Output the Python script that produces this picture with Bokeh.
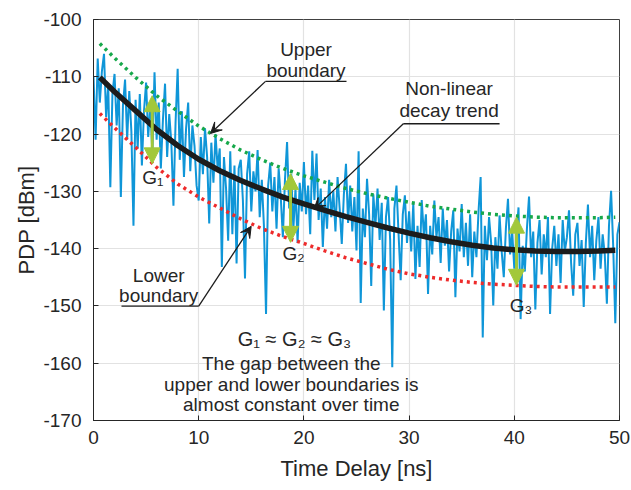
from bokeh.plotting import figure
from bokeh.models import Range1d, Label, Arrow, VeeHead, NormalHead, FixedTicker, Title
from bokeh.embed import file_html
from bokeh.resources import INLINE

# ---------------- data ----------------
pdp_dbm = [
    -110.0, -121.0, -106.8, -114.5, -109.0, -106.0, -117.0, -111.5, -129.3, -113.0,
    -109.5, -118.5, -112.0, -131.0, -115.0, -110.5, -121.0, -112.5, -119.5, -136.0,
    -114.0, -122.5, -113.0, -125.5, -116.0, -111.0, -120.5, -115.0, -123.5, -109.2,
    -121.0, -114.5, -126.0, -117.5, -111.2, -124.0, -116.5, -121.5, -132.5, -118.0,
    -108.6, -124.5, -116.0, -127.5, -119.0, -114.5, -126.5, -118.5, -122.0, -129.0,
    -131.6, -120.5, -127.0, -119.0, -124.0, -135.6, -121.5, -128.5, -120.0, -126.0,
    -122.5, -143.2, -124.0, -129.5, -138.6, -123.0, -137.5, -125.5, -142.6, -126.0,
    -124.5, -131.5, -145.2, -127.0, -123.0, -133.5, -126.5, -130.0, -122.8, -134.5,
    -128.0, -136.0, -151.4, -129.0, -125.0, -133.5, -127.5, -136.5, -126.0, -131.0,
    -138.0, -128.0, -121.4, -133.0, -127.0, -136.5, -129.5, -139.0, -128.5, -133.5,
    -124.9, -134.0, -129.0, -137.5, -122.9, -131.5, -123.4, -135.0, -129.5, -139.7,
    -131.0, -136.5, -128.0, -134.5, -130.0, -137.0, -127.5, -133.0, -139.2, -130.5,
    -125.2, -135.5, -129.0, -137.0, -131.0, -140.3, -123.0, -149.5, -133.0, -138.0,
    -127.8, -134.0, -146.5, -130.5, -136.0, -129.5, -138.5, -132.0, -150.8, -134.5,
    -131.0, -138.5, -160.7, -133.0, -129.0, -137.5, -145.5, -134.0, -130.7, -139.0,
    -133.5, -140.5, -132.0, -145.3, -136.0, -143.2, -131.5, -137.5, -134.0, -147.9,
    -136.0, -141.0, -131.6, -138.0, -134.5, -142.5, -133.0, -139.5, -135.0, -144.0,
    -137.0, -133.3, -148.5, -136.5, -140.5, -132.2, -141.5, -135.5, -143.0, -134.0,
    -145.0, -137.0, -141.5, -133.5, -127.5, -155.5, -136.0, -142.0, -134.5, -139.0,
    -149.9, -138.0, -143.5, -134.2, -140.5, -145.0, -136.5, -131.3, -141.0, -137.0,
    -143.5, -138.0, -132.8, -152.3, -139.5, -144.0, -136.5, -130.9, -141.5, -137.0,
    -150.6, -139.0, -135.0, -144.5, -137.5, -141.5, -134.5, -151.4, -140.0, -136.0,
    -143.0, -137.5, -146.0, -135.0, -140.5, -138.0, -133.3, -142.5, -148.2, -137.5,
    -135.5, -143.0, -138.5, -150.2, -139.0, -132.3, -141.5, -136.0, -145.5, -138.5,
    -134.5, -143.5, -137.5, -141.0, -149.6, -136.0, -129.9, -139.5, -153.0, -137.5,
    -135.4,
]
time_ns = [round(0.2 * i, 1) for i in range(len(pdp_dbm))]

fit_t = [0.6, 2, 4, 6, 8, 10, 12, 14, 16, 18, 20, 22, 24, 26, 28, 30,
         32, 34, 36, 38, 40, 42, 44, 46, 48, 49.6]
trend = [-110.1, -112.6, -115.9, -119.2, -122.0, -124.4, -126.4, -128.1, -129.6,
         -131.0, -132.2, -133.3, -134.4, -135.4, -136.4, -137.3, -138.1, -138.8,
         -139.4, -139.9, -140.2, -140.4, -140.5, -140.5, -140.4, -140.3]
upper = [-104.2, -106.7, -110.1, -113.3, -116.0, -118.6, -120.8, -122.8, -124.5,
         -126.0, -127.3, -128.4, -129.5, -130.4, -131.2, -131.9, -132.6, -133.1,
         -133.6, -134.0, -134.3, -134.5, -134.6, -134.6, -134.6, -134.5]
lower = [-116.4, -118.9, -122.3, -125.8, -128.7, -131.0, -132.9, -134.8, -136.5,
         -137.9, -139.1, -140.4, -141.6, -142.6, -143.6, -144.4, -145.0, -145.5,
         -145.9, -146.2, -146.4, -146.6, -146.7, -146.7, -146.7, -146.7]

gap_t = [5.58, 18.73, 40.21]
gap_top = [-113.3, -126.9, -134.5]
gap_bot = [-125.2, -138.9, -146.4]
gap_names = ["G\u2081", "G\u2082", "G\u2083"]

x_ticks = [0, 10, 20, 30, 40, 50]
y_ticks = [-170, -160, -150, -140, -130, -120, -110, -100]

# ---------------- style ----------------
FONT = "Liberation Sans"
TXT = "#262626"
BLUE = "#0f96d8"
GREEN = "#17a84b"
RED = "#ee2b2b"
ARROW_GREEN = "#a2c83a"
INK = "#1c1c1c"

p = figure(width=631, height=490, x_range=Range1d(0, 50), y_range=Range1d(-170, -100),
           output_backend="svg", toolbar_location=None,
           min_border_left=93, min_border_right=12, min_border_top=19, min_border_bottom=70)
p.background_fill_color = "white"
p.border_fill_color = "white"
p.outline_line_color = "#404040"
p.outline_line_width = 1

p.xaxis.ticker = FixedTicker(ticks=x_ticks)
p.yaxis.ticker = FixedTicker(ticks=y_ticks)
p.xaxis.major_label_overrides = {v: str(v) for v in x_ticks}
p.yaxis.major_label_overrides = {v: str(v) for v in y_ticks}
p.xaxis.axis_label = "Time Delay [ns]"
for ax in (p.xaxis, p.yaxis):
    ax.axis_label_text_font = FONT
    ax.axis_label_text_font_size = "22px"
    ax.axis_label_text_font_style = "normal"
    ax.axis_label_text_color = TXT
    ax.major_label_text_font = FONT
    ax.major_label_text_font_size = "19px"
    ax.major_label_text_color = TXT
    ax.axis_line_color = "#262626"
    ax.major_tick_line_color = "#262626"
    ax.major_tick_in = 5
    ax.major_tick_out = 0
    ax.minor_tick_line_color = None
p.xaxis.major_label_standoff = 10
p.yaxis.major_label_standoff = 12
p.xaxis.axis_label_standoff = 9
p.grid.grid_line_color = "#e2e2e2"
p.grid.grid_line_width = 1.2

# y axis title, shifted upward as in the reference
p.add_layout(Title(text="PDP [dBm]", align="center", offset=30, standoff=4,
                   text_font=FONT, text_font_size="22px", text_font_style="normal",
                   text_color=TXT), "left")

# ---------------- marks ----------------
p.line(time_ns, pdp_dbm, line_color=BLUE, line_width=2)
p.line(fit_t, upper, line_color=GREEN, line_width=3.5, line_dash="3 4")
p.line(fit_t, lower, line_color=RED, line_width=3.5, line_dash="3 4")
p.line(fit_t, trend, line_color=INK, line_width=5.5)

for t, a, b in zip(gap_t, gap_top, gap_bot):
    p.add_layout(Arrow(x_start=t, y_start=b, x_end=t, y_end=a,
                       line_color=ARROW_GREEN, line_width=3,
                       start=NormalHead(size=16, fill_color=ARROW_GREEN, line_color=ARROW_GREEN),
                       end=NormalHead(size=16, fill_color=ARROW_GREEN, line_color=ARROW_GREEN)))

g_label_pos = [(4.63, -127.6), (17.97, -140.85), (39.57, -149.9)]
for (x, y), name in zip(g_label_pos, gap_names):
    p.add_layout(Label(x=x, y=y, text=name, text_font=FONT, text_font_size="19px",
                       text_color=TXT, text_align="left", text_baseline="middle"))


def txt(x, y, s, size="19px"):
    p.add_layout(Label(x=x, y=y, text=s, text_font=FONT, text_font_size=size,
                       text_color=TXT, text_align="center", text_baseline="middle"))


def pointer(x0, x1, y, xs, tx, ty):
    p.segment(x0=[x0], y0=[y], x1=[x1], y1=[y], line_color=INK, line_width=1.3)
    p.add_layout(Arrow(x_start=xs, y_start=y, x_end=tx, y_end=ty,
                       line_color=INK, line_width=1.3,
                       end=VeeHead(size=11, fill_color=INK, line_color=INK)))


# Upper boundary
txt(20.2, -105.25, "Upper")
txt(20.2, -108.9, "boundary")
pointer(16.35, 24.05, -110.8, 16.35, 11.12, -119.9)

# Non-linear decay trend
txt(33.8, -112.05, "Non-linear")
txt(33.8, -115.9, "decay trend")
pointer(29.45, 38.6, -118.2, 29.45, 20.96, -133.1)

# Lower boundary
txt(6.2, -144.7, "Lower")
txt(6.2, -148.2, "boundary")
pointer(2.66, 10.0, -150.05, 10.0, 14.99, -136.1)

# Central note
txt(19.1, -155.7, "G\u2081 \u2248 G\u2082 \u2248 G\u2083", size="20px")
txt(18.8, -160.05, "The gap between the")
txt(18.8, -163.7, "upper and lower boundaries is")
txt(18.8, -167.2, "almost constant over time")

open("out.html", "w").write(file_html(p, INLINE))
